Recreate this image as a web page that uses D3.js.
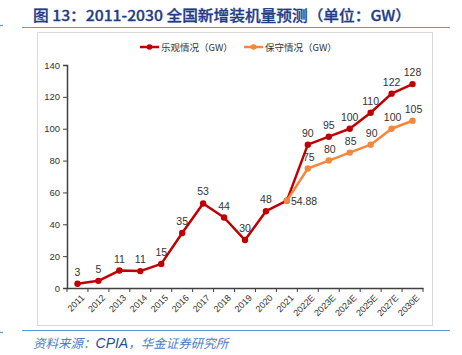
<!DOCTYPE html>
<html><head><meta charset="utf-8">
<script src="https://cdn.jsdelivr.net/npm/d3@7"></script>
<style>body{margin:0;background:#fff;}svg{display:block;}</style>
</head><body>
<script>
const categories = ["2011","2012","2013","2014","2015","2016","2017","2018","2019","2020","2021","2022E","2023E","2024E","2025E","2027E","2030E"];
const optimistic = [2.7,4.5,10.95,10.6,15.13,34.54,53.06,44.26,30.11,48.2,54.88,90,95,100,110,122,128];
const optimisticLabels = ["3","5","11","11","15","35","53","44","30","48","54.88","90","95","100","110","122","128"];
const conservativeCats = ["2021","2022E","2023E","2024E","2025E","2027E","2030E"];
const conservative = [54.88,75,80,85,90,100,105];
const conservativeLabels = ["","75","80","85","90","100","105"];
const yTicks = [0,20,40,60,80,100,120,140];
const seriesNames = ["乐观情况（GW）","保守情况（GW）"];
const title = "图 13：2011-2030 全国新增装机量预测（单位：GW）";

const W=462,H=355;
const svg=d3.select("body").append("svg").attr("width",W).attr("height",H);
const red="#C00000", orange="#F5873A", blue="#5B9BD5";

// title
svg.append("text").attr("x",33).attr("y",21).attr("fill","#1F3C88")
  .attr("font-family","'Noto Sans CJK SC',sans-serif").attr("font-size",14.5).attr("font-weight","500")
  .attr("stroke","#1F3C88").attr("stroke-width",0.3)
  .attr("textLength",378).attr("lengthAdjust","spacingAndGlyphs").text(title);
svg.append("line").attr("x1",22).attr("x2",450).attr("y1",27.5).attr("y2",27.5).attr("stroke",blue).attr("stroke-width",1.2);
svg.append("line").attr("x1",0).attr("x2",3).attr("y1",25.5).attr("y2",25.5).attr("stroke",blue).attr("stroke-width",1.2);
// frame
svg.append("rect").attr("x",37.5).attr("y",32.5).attr("width",395).attr("height",293).attr("fill","none").attr("stroke","#D9D9D9").attr("stroke-width",1);
// bottom line & caption
svg.append("line").attr("x1",22).attr("x2",450).attr("y1",330.5).attr("y2",330.5).attr("stroke",blue).attr("stroke-width",1.2);
svg.append("line").attr("x1",0).attr("x2",3).attr("y1",332.5).attr("y2",332.5).attr("stroke",blue).attr("stroke-width",1.2);
const cap=svg.append("text").attr("x",33).attr("y",348).attr("font-family","'Noto Sans CJK SC',sans-serif")
  .attr("font-size",12.5).attr("font-style","italic").attr("fill","#4A7CC9");
cap.append("tspan").text("资料来源：");
cap.append("tspan").attr("fill","#1F4FA0").attr("font-family","Arial,'Liberation Sans',sans-serif").attr("font-size",14).text("CPIA");
cap.append("tspan").text("，华金证券研究所");

// scales
const x=d3.scaleBand().domain(categories).range([67,423]);
const y=d3.scaleLinear().domain([0,140]).range([288,65]);
const cx=c=>x(c)+x.bandwidth()/2;

// y axis
const ya=svg.append("g").attr("transform","translate(67,0)")
  .call(d3.axisLeft(y).tickValues(yTicks).tickSize(4).tickPadding(3));
ya.select(".domain").attr("stroke","#404040").attr("stroke-width",1.5);
ya.selectAll(".tick line").attr("stroke","#404040");
ya.selectAll("text").attr("font-family","Arial,'Liberation Sans',sans-serif").attr("font-size",9.5).attr("fill","#333");

// x axis
const xa=svg.append("g").attr("transform","translate(0,288)").call(d3.axisBottom(x).tickSize(0).tickFormat(""));
xa.select(".domain").attr("stroke","#404040").attr("stroke-width",1.5);
const bounds=categories.map(c=>x(c)).concat([x.range()[1]]);
svg.append("g").selectAll("line").data(bounds).join("line")
  .attr("x1",d=>d).attr("x2",d=>d).attr("y1",288).attr("y2",292).attr("stroke","#404040");
svg.append("g").selectAll("text").data(categories).join("text")
  .attr("transform",d=>`translate(${cx(d)+3},${294}) rotate(-45)`)
  .attr("text-anchor","end").attr("dy","0.7em")
  .attr("font-family","Arial,'Liberation Sans',sans-serif").attr("font-size",9).attr("fill","#333").text(d=>d);

const line=d3.line();
function drawSeries(cats,vals,color){
  const pts=cats.map((c,i)=>[cx(c),y(vals[i])]);
  svg.append("path").attr("d",line(pts)).attr("fill","none").attr("stroke",color).attr("stroke-width",2.5).attr("stroke-linejoin","round");
  svg.append("g").selectAll("circle").data(pts).join("circle").attr("cx",d=>d[0]).attr("cy",d=>d[1]).attr("r",3.2).attr("fill",color);
  return pts;
}
const rp=drawSeries(categories,optimistic,red);
const op=drawSeries(conservativeCats,conservative,orange);

const lf="Arial,'Liberation Sans',sans-serif";
svg.append("g").selectAll("text").data(rp).join("text")
  .attr("x",(d,i)=>optimisticLabels[i]==="54.88"?d[0]+4:d[0])
  .attr("y",(d,i)=>optimisticLabels[i]==="54.88"?d[1]+4:d[1]-8)
  .attr("text-anchor",(d,i)=>optimisticLabels[i]==="54.88"?"start":"middle")
  .attr("font-family",lf).attr("font-size",10.5).attr("fill","#333").text((d,i)=>optimisticLabels[i]);
svg.append("g").selectAll("text").data(op).join("text")
  .attr("x",d=>d[0]+1).attr("y",d=>d[1]-8).attr("text-anchor","middle")
  .attr("font-family",lf).attr("font-size",10.5).attr("fill","#333").text((d,i)=>conservativeLabels[i]);

// legend
const leg=[{x:140,c:red,t:seriesNames[0]},{x:244,c:orange,t:seriesNames[1]}];
leg.forEach(l=>{
  svg.append("line").attr("x1",l.x).attr("x2",l.x+19).attr("y1",47).attr("y2",47).attr("stroke",l.c).attr("stroke-width",2.5);
  svg.append("circle").attr("cx",l.x+9.5).attr("cy",47).attr("r",2.8).attr("fill",l.c);
  svg.append("text").attr("x",l.x+21).attr("y",50.5).attr("font-family","'Noto Sans CJK SC',sans-serif").attr("font-size",9.5).attr("fill","#333").text(l.t);
});
</script>
</body></html>
